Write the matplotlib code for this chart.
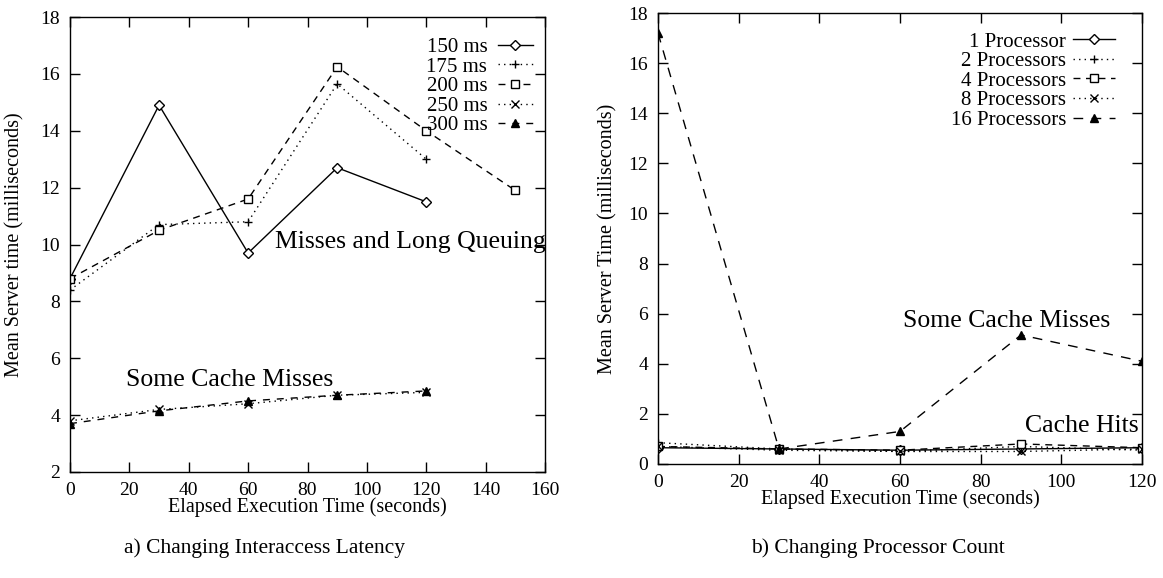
import matplotlib
matplotlib.use("Agg")
import matplotlib.pyplot as plt

plt.rcParams['font.family'] = ['Liberation Serif', 'DejaVu Serif']

# ---- Data: panel a) ----
time_a = [0, 30, 60, 90, 120, 150]
lat_150 = [8.8, 14.9, 9.7, 12.7, 11.5]
lat_175 = [8.4, 10.7, 10.8, 15.65, 13.0]
lat_200 = [8.8, 10.5, 11.6, 16.25, 14.0, 11.9]
lat_250 = [3.8, 4.2, 4.4, 4.7, 4.8]
lat_300 = [3.7, 4.15, 4.5, 4.7, 4.85]
labels_a = ['150 ms', '175 ms', '200 ms', '250 ms', '300 ms']

# ---- Data: panel b) ----
time_b = [0, 30, 60, 90, 120]
proc_1 = [0.65, 0.6, 0.55, 0.6, 0.65]
proc_2 = [0.85, 0.6, 0.5, 0.7, 0.55]
proc_4 = [0.7, 0.6, 0.55, 0.8, 0.65]
proc_8 = [0.7, 0.55, 0.5, 0.5, 0.6]
proc_16 = [17.2, 0.6, 1.3, 5.15, 4.1]
labels_b = ['1 Processor', '2 Processors', '4 Processors', '8 Processors', '16 Processors']

xticks_a = [0, 20, 40, 60, 80, 100, 120, 140, 160]
yticks_a = [2, 4, 6, 8, 10, 12, 14, 16, 18]
xticks_b = [0, 20, 40, 60, 80, 100, 120]
yticks_b = [0, 2, 4, 6, 8, 10, 12, 14, 16, 18]

W, H = 1163, 578
fig = plt.figure(figsize=(W / 100, H / 100), dpi=100)

def px_axes(l, t, r, b):
    return fig.add_axes([l / W, 1 - b / H, (r - l) / W, (b - t) / H])

axa = px_axes(70, 17, 545, 472)
axb = px_axes(658, 13, 1142, 464)

lw = 1.0
ms = 5.5
kw = dict(color='black', lw=lw, markersize=ms)

axa.plot(time_a[:len(lat_150)], lat_150, '-', marker='D', mfc='white', markersize=5, color='black', lw=lw, label=labels_a[0])
axa.plot(time_a[:len(lat_175)], lat_175, linestyle=(0, (1, 3)), marker='+', label=labels_a[1], **kw)
axa.plot(time_a[:len(lat_200)], lat_200, linestyle=(0, (5, 4)), marker='s', mfc='white', label=labels_a[2], **kw)
axa.plot(time_a[:len(lat_250)], lat_250, linestyle=(0, (1, 3)), marker='x', label=labels_a[3], **kw)
axa.plot(time_a[:len(lat_300)], lat_300, linestyle=(0, (5, 5)), marker='^', label=labels_a[4], **kw)

axb.plot(time_b, proc_1, '-', marker='D', mfc='white', markersize=5, color='black', lw=lw, label=labels_b[0])
axb.plot(time_b, proc_2, linestyle=(0, (1, 3)), marker='+', label=labels_b[1], **kw)
axb.plot(time_b, proc_4, linestyle=(0, (5, 4)), marker='s', mfc='white', label=labels_b[2], **kw)
axb.plot(time_b, proc_8, linestyle=(0, (1, 3)), marker='x', label=labels_b[3], **kw)
axb.plot(time_b, proc_16, linestyle=(0, (7, 6)), marker='^', label=labels_b[4], **kw)

fs_tick = 14
for ax, xt, yt in ((axa, xticks_a, yticks_a), (axb, xticks_b, yticks_b)):
    ax.set_xticks(xt)
    ax.set_yticks(yt)
    ax.tick_params(direction='in', length=7, width=1.0, top=True, right=True,
                   labelsize=fs_tick, pad=7)
    for s in ax.spines.values():
        s.set_linewidth(1.0)
    ax.set_xlabel('Elapsed Execution Time (seconds)', fontsize=14.5, labelpad=-1)

axa.set_xlim(0, 160)
axa.set_ylim(2, 18)
axb.set_xlim(0, 120)
axb.set_ylim(0, 18)

axa.set_ylabel('Mean Server time (milliseconds)', fontsize=14.5)
axa.yaxis.set_label_coords(-0.095, 0.5)
axb.set_ylabel('Mean Server Time (milliseconds)', fontsize=14.5)
axb.yaxis.set_label_coords(-0.083, 0.5)

axa.text(69, 10.1, 'Misses and Long Queuing', fontsize=18.5, va='center', ha='left')
axa.text(19, 5.25, 'Some Cache Misses', fontsize=18.5, va='center', ha='left')
axb.text(60.8, 5.7, 'Some Cache Misses', fontsize=18.5, va='center', ha='left')
axb.text(91, 1.5, 'Cache Hits', fontsize=18.5, va='center', ha='left')

axa.legend(loc='upper right', bbox_to_anchor=(0.975, 0.955), frameon=False,
           markerfirst=False, fontsize=15, labelspacing=0.0, handlelength=1.7,
           handletextpad=0.5, borderpad=0, borderaxespad=0, numpoints=1)
axb.legend(loc='upper right', bbox_to_anchor=(0.944, 0.958), frameon=False,
           markerfirst=False, fontsize=15, labelspacing=0.0, handlelength=2.0,
           handletextpad=0.35, borderpad=0, borderaxespad=0, numpoints=1)

fig.text(265 / W, 1 - 548 / H, 'a) Changing Interaccess Latency', fontsize=15.5,
         ha='center', va='center')
fig.text(878 / W, 1 - 548 / H, 'b) Changing Processor Count', fontsize=15.5,
         ha='center', va='center')

fig.savefig('out.png', dpi=100)
